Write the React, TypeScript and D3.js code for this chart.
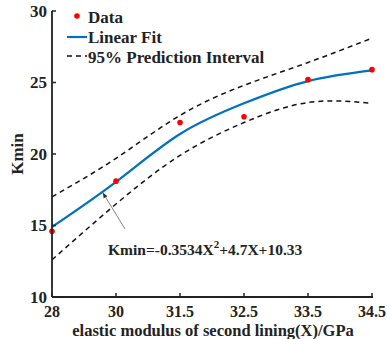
import React from "react";
import * as d3 from "d3";

const categories = ["28", "30", "31.5", "32.5", "33.5", "34.5"];
const dataValues = [14.6, 18.1, 22.2, 22.6, 25.2, 25.9];
const fitValues = [14.9, 18.05, 21.4, 23.55, 25.1, 25.85];
const upperValues = [17.0, 19.7, 22.7, 24.8, 26.4, 28.1];
const lowerValues = [12.6, 16.5, 19.9, 22.2, 23.6, 23.55];
const yTicks = [10, 15, 20, 25, 30];

const W = 391;
const H = 339;
const m = { left: 52, right: 19, top: 11, bottom: 42 };
const font = "'Liberation Serif', 'Times New Roman', serif";

export default function App() {
  const x = d3
    .scalePoint<string>()
    .domain(categories)
    .range([m.left, W - m.right]);
  const y = d3.scaleLinear().domain([10, 30]).range([H - m.bottom, m.top]);

  const line = (vals: number[]) =>
    d3
      .line<number>()
      .x((_, i) => x(categories[i]) as number)
      .y((d) => y(d))
      .curve(d3.curveNatural)(vals) as string;

  const x0 = m.left;
  const yb = H - m.bottom;
  const blue = "#0072BD";

  return (
    <svg
      width={W}
      height={H}
      style={{ position: "absolute", left: 0, top: 0, background: "#fff" }}
      fontFamily={font}
    >
      <defs>
        <marker
          id="arr"
          viewBox="0 0 10 10"
          refX="9"
          refY="5"
          markerWidth="7"
          markerHeight="7"
          orient="auto"
        >
          <path d="M0,1 L10,5 L0,9 z" fill="#333" />
        </marker>
      </defs>
      {/* bands */}
      <path d={line(upperValues)} fill="none" stroke="#111" strokeWidth={1.5} strokeDasharray="5,4" />
      <path d={line(lowerValues)} fill="none" stroke="#111" strokeWidth={1.5} strokeDasharray="5,4" />
      {/* fit */}
      <path d={line(fitValues)} fill="none" stroke={blue} strokeWidth={2.2} />
      {/* data */}
      {dataValues.map((v, i) => (
        <circle key={i} cx={x(categories[i])} cy={y(v)} r={2.8} fill="#ff0000" />
      ))}
      {/* axes */}
      <line x1={x0} x2={x0} y1={m.top} y2={yb} stroke="#222" strokeWidth={1.8} />
      <line x1={x0} x2={W - m.right + 1} y1={yb} y2={yb} stroke="#222" strokeWidth={1.8} />
      {yTicks.map((t) => (
        <g key={t}>
          <line x1={x0} x2={x0 + 4} y1={y(t)} y2={y(t)} stroke="#222" strokeWidth={1.5} />
          <text
            x={x0 - 5}
            y={y(t)}
            dy="0.35em"
            textAnchor="end"
            fontSize={17}
            fontWeight="bold"
            fill="#222"
          >
            {t}
          </text>
        </g>
      ))}
      {categories.map((c) => (
        <g key={c}>
          <line x1={x(c)} x2={x(c)} y1={yb} y2={yb - 4} stroke="#222" strokeWidth={1.5} />
          <text
            x={x(c)}
            y={yb + 20}
            textAnchor="middle"
            fontSize={16}
            fontWeight="bold"
            fill="#222"
          >
            {c}
          </text>
        </g>
      ))}
      <text
        x={213}
        y={H - 3}
        textAnchor="middle"
        fontSize={16.5}
        fontWeight="bold"
        fill="#222"
      >
        elastic modulus of second lining(X)/GPa
      </text>
      <text
        transform={`translate(23,${(m.top + yb) / 2}) rotate(-90)`}
        textAnchor="middle"
        fontSize={17}
        fontWeight="bold"
        fill="#222"
      >
        Kmin
      </text>
      {/* legend */}
      <circle cx={77} cy={16} r={2.8} fill="#ff0000" />
      <text x={88} y={23} fontSize={17} fontWeight="bold" fill="#222">Data</text>
      <line x1={67} x2={87} y1={37} y2={37} stroke={blue} strokeWidth={2.2} />
      <text x={88} y={43} fontSize={17} fontWeight="bold" fill="#222">Linear Fit</text>
      <line x1={67} x2={87} y1={56} y2={56} stroke="#111" strokeWidth={1.5} strokeDasharray="5,4" />
      <text x={88} y={63} fontSize={17} fontWeight="bold" fill="#222">95% Prediction Interval</text>
      {/* annotation */}
      <line x1={125} x2={103} y1={229} y2={193} stroke="#666" strokeWidth={0.8} markerEnd="url(#arr)" />
      <text x={108} y={255} fontSize={15.5} fontWeight="bold" fill="#222">
        Kmin=-0.3534X
        <tspan dy={-7} fontSize={11}>2</tspan>
        <tspan dy={7}>+4.7X+10.33</tspan>
      </text>
    </svg>
  );
}
